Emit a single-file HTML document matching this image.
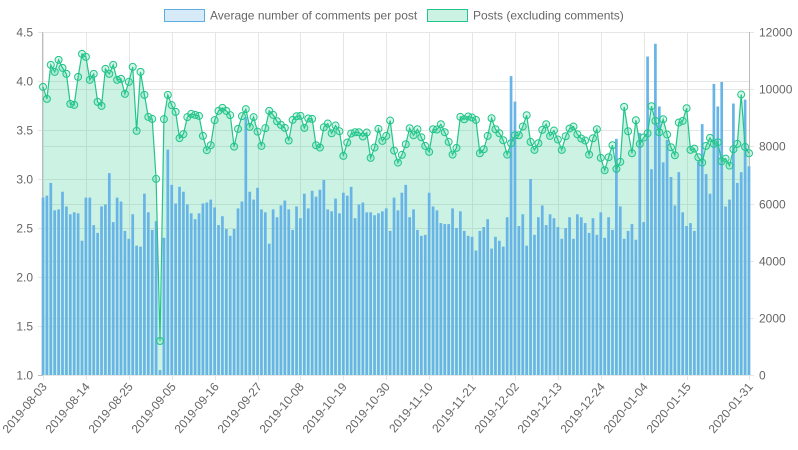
<!DOCTYPE html>
<html><head><meta charset="utf-8">
<style>
html,body{margin:0;padding:0;background:#fff;}
svg{display:block;font-family:"Liberation Sans",sans-serif;}
</style></head>
<body>
<svg id="chart" width="798" height="450">
  <g>
    <rect x="164.5" y="9.5" width="40" height="12" fill="rgba(93,173,226,0.25)" stroke="#5dade2"/>
    <text x="210" y="19.5" font-size="12" fill="#666">Average number of comments per post</text>
    <rect x="427.5" y="9.5" width="40" height="12" fill="rgba(46,204,143,0.25)" stroke="#22c58a"/>
    <text x="473" y="19.5" font-size="12" fill="#666">Posts (excluding comments)</text>
  </g>
  <g id="grid"></g>
  <g id="area"></g>
  <g id="bars"></g>
  <g id="line"></g>
  <g id="axes"></g>
</svg>
<script>
const startDate = "2019-08-03";
const avgComments = [2.81,2.83,2.96,2.68,2.69,2.87,2.72,2.64,2.66,2.65,2.37,2.81,2.81,2.53,2.45,2.72,2.74,3.06,2.56,2.81,2.77,2.47,2.39,2.64,2.32,2.31,2.85,2.66,2.48,2.57,1.05,
2.40,3.30,2.94,2.75,2.92,2.87,2.74,2.65,2.59,2.65,2.75,2.76,2.79,2.71,2.53,2.62,2.49,2.42,2.49,2.70,2.77,3.63,2.87,2.79,2.91,2.69,2.66,2.34,2.69,
2.61,2.73,2.78,2.69,2.48,2.72,2.60,2.85,2.70,2.88,2.82,2.89,2.99,2.69,2.67,2.80,2.65,2.86,2.83,2.92,2.60,2.74,2.76,2.66,2.66,2.63,2.65,2.67,2.70,2.47,
2.81,2.68,2.86,2.94,2.61,2.69,2.48,2.42,2.43,2.86,2.72,2.68,2.55,2.54,2.54,2.70,2.50,2.67,2.47,2.42,2.41,2.27,2.47,2.51,2.59,2.29,2.41,2.37,2.31,2.61,
4.05,3.79,2.52,2.64,2.32,3.00,2.43,2.61,2.73,2.53,2.64,2.60,2.51,2.39,2.50,2.61,2.39,2.64,2.61,2.55,2.45,2.60,2.43,2.66,2.40,2.61,2.48,3.41,2.72,
2.39,2.47,2.54,2.38,3.47,2.56,4.25,3.10,4.38,3.74,3.17,3.40,3.02,2.73,3.07,2.66,2.52,2.55,2.47,3.18,3.56,3.05,2.85,3.97,3.74,3.99,2.72,2.79,3.77,2.96,3.07,3.81,3.13];
const posts = [10080,9660,10850,10605,11025,10745,10535,9485,9450,10430,11235,11130,10325,10535,9555,9415,10710,10535,10850,10325,10360,9835,10255,10780,8540,10605,9800,9030,8960,6860,1190,
8950,9800,9440,9205,8285,8425,9020,9135,9100,9065,8365,7865,8040,8915,9240,9345,9240,9090,7990,8610,9055,9300,8680,9020,8515,8015,8635,9240,9100,
8878,8750,8645,8202,8925,9053,9065,8645,8972,8960,8038,7957,8668,8797,8458,8727,8528,7665,8132,8447,8493,8493,8342,8482,7595,7957,8610,8190,8365,8902,
7852,7432,7700,8073,8633,8388,8598,8318,8015,7805,8598,8587,8773,8493,8155,7712,7945,9030,8948,9042,9007,8925,7758,7898,8365,8983,8598,8458,8213,7712,
8108,8388,8388,8692,9088,8155,7875,8108,8575,8773,8365,8552,8237,7875,8353,8622,8692,8423,8272,8202,7712,8283,8598,7595,7163,7618,8038,7210,7455,
9380,8528,7758,8913,8085,8307,8458,9403,8890,8493,8948,8412,7968,7688,8832,8890,9333,7875,7922,7618,7432,8015,8295,8085,8143,7478,7572,7327,7898,8085,9812,7980,7758];
const leftTicks = [1.0,1.5,2.0,2.5,3.0,3.5,4.0,4.5];
const rightTicks = [0,2000,4000,6000,8000,10000,12000];

const NS="http://www.w3.org/2000/svg";
const X0=43, X1=749, YT=32, YB=375;
const n=avgComments.length;
const dates=[];
for(let i=0;i<n;i++){const d=new Date(startDate+"T00:00:00Z");d.setUTCDate(d.getUTCDate()+i);dates.push(d.toISOString().slice(0,10));}
function xs(i){return X0+i*(X1-X0)/(n-1);}
function yl(v){return YB-(v-1)/(4.5-1)*(YB-YT);}
function yr(v){return YB-v/12000*(YB-YT);}
function mk(tag,attrs,parent){const e=document.createElementNS(NS,tag);for(const k in attrs)e.setAttribute(k,attrs[k]);parent.appendChild(e);return e;}
const grid=document.getElementById('grid'),axes=document.getElementById('axes');
leftTicks.forEach(t=>{
  const y=Math.round(yl(t))+0.5;
  const g=mk('line',{x1:X0-5,x2:X1,y1:y,y2:y,stroke:t===1?'#bbb':'#e6e6e6'},grid);
  
  
  const tx=mk('text',{x:X0-10,y:y+4,'text-anchor':'end','font-size':12,fill:'#666'},axes);
  tx.textContent=t.toFixed(1);
  
  
});
rightTicks.forEach(t=>{
  const y=Math.round(yr(t))+0.5;
  const g=mk('line',{x1:X0,x2:X1+5,y1:y,y2:y,stroke:'#e6e6e6'},grid);
  
  
  const tx=mk('text',{x:X1+10,y:y+4,'font-size':12,fill:'#666'},axes);
  tx.textContent=String(t);
  
  
});
const labelIdx=[];
for(let i=0;i<n-11;i+=11)labelIdx.push(i);
labelIdx.push(n-1);
labelIdx.forEach(i=>{
  const x=Math.round(xs(i))+0.5;
  const g=mk('line',{x1:x,x2:x,y1:YT,y2:YB+5,stroke:'#e6e6e6'},grid);
  
  
  const tx=mk('text',{x:0,y:0,'text-anchor':'end','font-size':12,fill:'#666',transform:`translate(${x+4},${YB+12}) rotate(-50)`},axes);
  tx.textContent=dates[i];
  
  
});
mk('line',{x1:X0-0.5,x2:X0-0.5,y1:YT,y2:YB,stroke:'#bbb'},grid);
mk('line',{x1:X1+0.5,x2:X1+0.5,y1:YT,y2:YB,stroke:'#bbb'},grid);
// area
let d=`M${xs(0)},${YB}`;
posts.forEach((v,i)=>{d+=` L${xs(i)},${yr(v)}`;});
d+=` L${xs(n-1)},${YB} Z`;
const area=mk('path',{d:d,fill:'rgba(46,204,143,0.25)'},document.getElementById('area'));


// bars
const bars=document.getElementById('bars');
const bw=2.7;
avgComments.forEach((v,i)=>{
  const y=yl(v);
  const b=mk('rect',{x:xs(i)-bw/2,y:y,width:bw,height:YB-y,fill:'#68b4e6'},bars);
  
  
});
// line
const lg=document.getElementById('line');
let ld='';
posts.forEach((v,i)=>{ld+=(i?' L':'M')+xs(i)+','+yr(v);});
const pl=mk('path',{d:ld,fill:'none',stroke:'#22c58a','stroke-width':1.2},lg);


posts.forEach((v,i)=>{
  const c=mk('circle',{cx:xs(i),cy:yr(v),r:3.5,fill:'rgba(46,204,143,0.2)',stroke:'#22c58a','stroke-width':1},lg);
  
  
});
</script>
</body></html>
